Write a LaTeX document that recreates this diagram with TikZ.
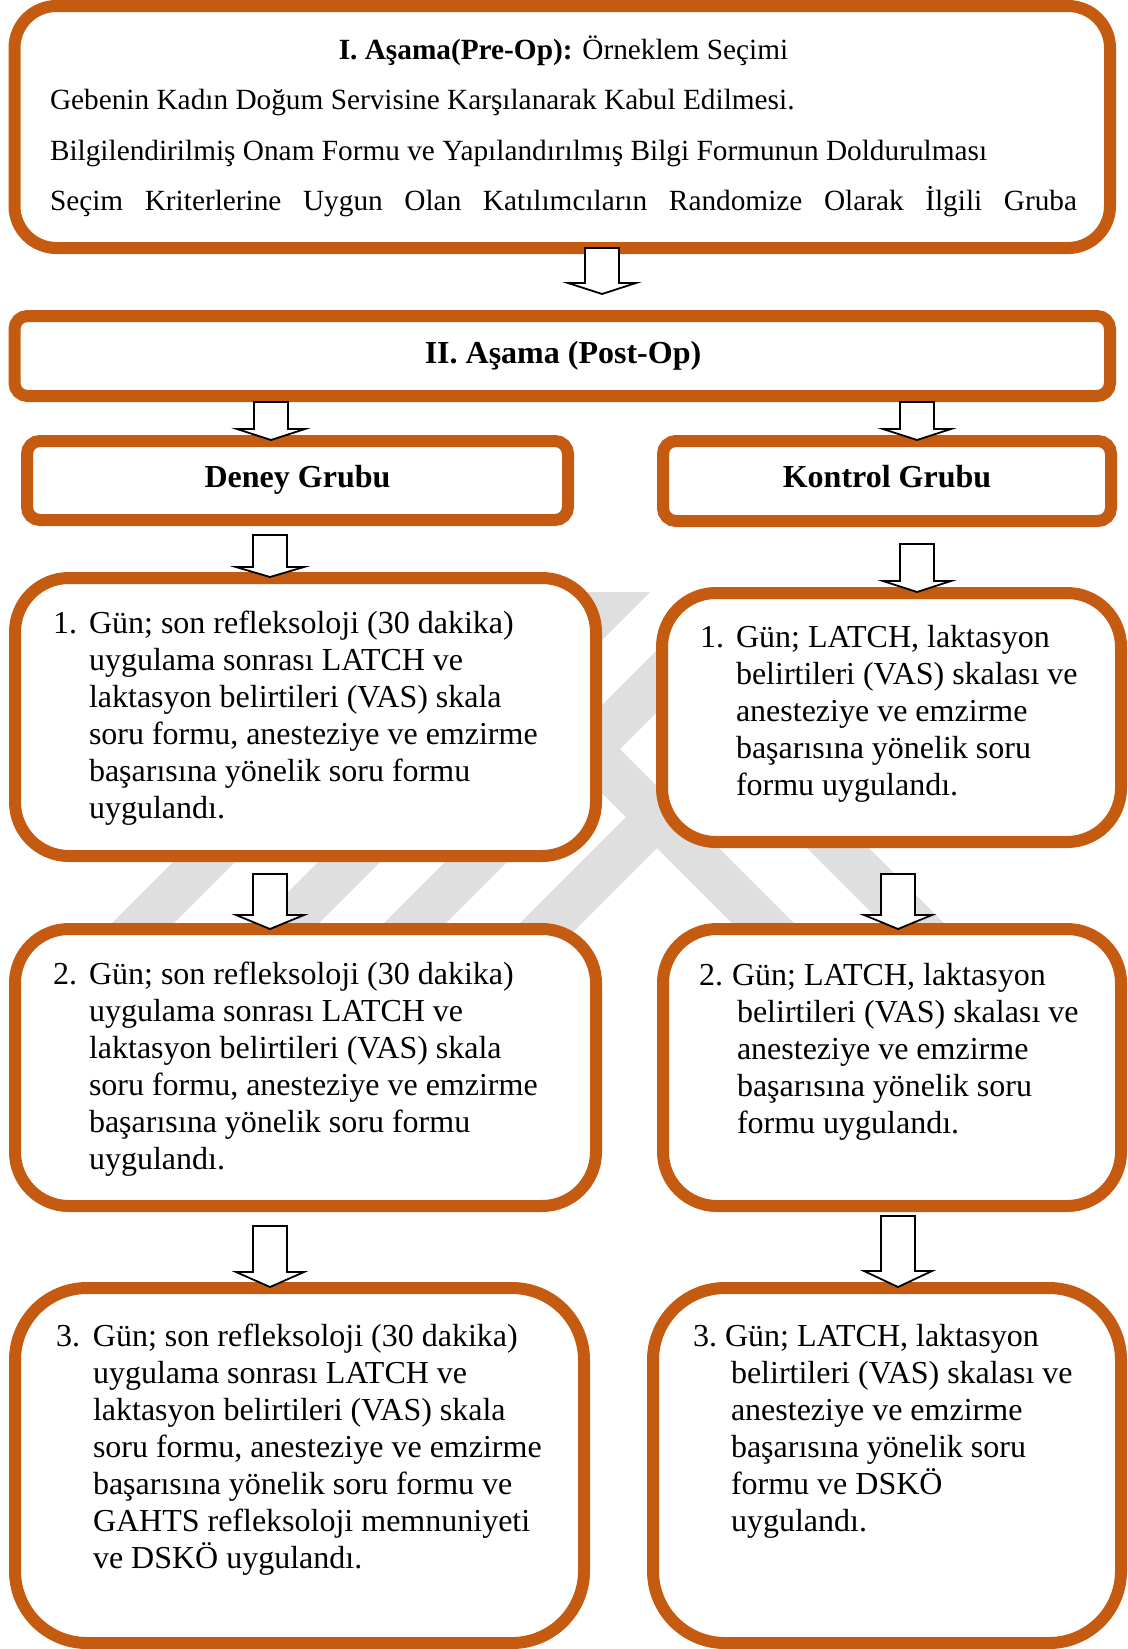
\documentclass[tikz,border=0pt]{standalone}
\usepackage{fontspec}
\setmainfont{Liberation Serif}
\usetikzlibrary{calc}
\definecolor{boxorange}{HTML}{C55A11}
\definecolor{wmgray}{gray}{0.875}
\tikzset{
  obox/.style={draw=boxorange, line width=12pt, fill=white, inner sep=0pt, outer sep=0pt},
  txt/.style={anchor=base west, inner sep=0pt, outer sep=0pt, font=\fontsize{32pt}{37pt}\selectfont},
  headtxt/.style={anchor=base, inner sep=0pt, outer sep=0pt, font=\fontsize{32pt}{37pt}\selectfont\bfseries},
  barrow/.style={draw=black, line width=1.8pt, fill=white, line join=miter},
  wm/.style={fill=wmgray, draw=none}
}
\newcommand\blockarrow[3]{%
  \draw[barrow] let \p1=(#1), \p2=(#2) in
    (\x1-17pt,\y1) -- (\x1+17pt,\y1) -- (\x1+17pt,\y2+#3pt) -- (\x1+34pt,\y2+#3pt)
    -- (\x1,\y2) -- (\x1-34pt,\y2+#3pt) -- (\x1-17pt,\y2+#3pt) -- cycle;}
% numbered paragraph: #1 number box width, #2 hanging indent, #3 number, #4 lines
\newcommand\numpar[4]{\parbox[t]{560pt}{\hangindent=#2pt\hangafter=1\noindent\makebox[#1pt][l]{#3}#4}}
\begin{document}
\begin{tikzpicture}[x=1pt,y=-1pt]
\useasboundingbox (0,0) rectangle (1127,1649);
\fill[white] (0,0) rectangle (1127,1649);
% watermark
\foreach \c in {176,321,448,584}
  \fill[wm] (\c-31+298,592) -- (\c+31+298,592) -- (\c+31-110,1000) -- (\c-31-110,1000) -- cycle;
\foreach \c in {730,880}
  \fill[wm] (\c-31-190,700) -- (\c+31-190,700) -- (\c+31+110,1000) -- (\c-31+110,1000) -- cycle;
% boxes
\node[obox, rounded corners=42pt, minimum width=1095.5pt, minimum height=242pt] (b0) at (562.25,127) {};
\node[obox, rounded corners=13pt, minimum width=1095.5pt, minimum height=80pt] (b1) at (562.25,356) {};
\node[obox, rounded corners=13pt, minimum width=541pt, minimum height=79pt] (b2) at (297.5,480.5) {};
\node[obox, rounded corners=13pt, minimum width=448pt, minimum height=80pt] (b3) at (887,481) {};
\node[obox, rounded corners=54pt, minimum width=581pt, minimum height=278pt] (b4) at (305.5,717) {};
\node[obox, rounded corners=54pt, minimum width=459pt, minimum height=249pt] (b5) at (891.5,717.5) {};
\node[obox, rounded corners=54pt, minimum width=581pt, minimum height=277pt] (b6) at (305.5,1067.5) {};
\node[obox, rounded corners=54pt, minimum width=458pt, minimum height=277pt] (b7) at (892,1067.5) {};
\node[obox, rounded corners=72pt, minimum width=569pt, minimum height=355pt] (b8) at (299.5,1465.5) {};
\node[obox, rounded corners=72pt, minimum width=468pt, minimum height=355pt] (b9) at (887,1465.5) {};
% texts
\node[anchor=base west, inner sep=0pt, outer sep=0pt, font=\fontsize{29.3pt}{50.5pt}\selectfont] (t0) at (50,59)
 {\parbox[t]{1027pt}{\makebox[\linewidth]{\textbf{I. Aşama(Pre-Op):} Örneklem Seçimi}\\
 Gebenin Kadın Doğum Servisine Karşılanarak Kabul Edilmesi.\\
 Bilgilendirilmiş Onam Formu ve Yapılandırılmış Bilgi Formunun Doldurulması\\
 \makebox[\linewidth][s]{Seçim Kriterlerine Uygun Olan Katılımcıların Randomize Olarak İlgili Gruba}}};
\node[headtxt] (h1) at (563,363) {II. Aşama (Post-Op)};
\node[headtxt] (h2) at (297.5,487) {Deney Grubu};
\node[headtxt] (h3) at (887,487) {Kontrol Grubu};
\node[txt] (t4) at (53,633) {\numpar{36}{36}{1.}{Gün; son refleksoloji (30 dakika)\\
 uygulama sonrası LATCH ve\\
 laktasyon belirtileri (VAS) skala\\
 soru formu, anesteziye ve emzirme\\
 başarısına yönelik soru formu\\
 uygulandı.}};
\node[txt] (t5) at (700,647) {\numpar{36}{36}{1.}{Gün; LATCH, laktasyon\\
 belirtileri (VAS) skalası ve\\
 anesteziye ve emzirme\\
 başarısına yönelik soru\\
 formu uygulandı.}};
\node[txt] (t6) at (53,984) {\numpar{36}{36}{2.}{Gün; son refleksoloji (30 dakika)\\
 uygulama sonrası LATCH ve\\
 laktasyon belirtileri (VAS) skala\\
 soru formu, anesteziye ve emzirme\\
 başarısına yönelik soru formu\\
 uygulandı.}};
\node[txt] (t7) at (699,985) {\numpar{33}{38}{2.}{Gün; LATCH, laktasyon\\
 belirtileri (VAS) skalası ve\\
 anesteziye ve emzirme\\
 başarısına yönelik soru\\
 formu uygulandı.}};
\node[txt] (t8) at (56,1346) {\numpar{37}{37}{3.}{Gün; son refleksoloji (30 dakika)\\
 uygulama sonrası LATCH ve\\
 laktasyon belirtileri (VAS) skala\\
 soru formu, anesteziye ve emzirme\\
 başarısına yönelik soru formu ve\\
 GAHTS refleksoloji memnuniyeti\\
 ve DSKÖ uygulandı.}};
\node[txt] (t9) at (693,1346) {\numpar{32}{38}{3.}{Gün; LATCH, laktasyon\\
 belirtileri (VAS) skalası ve\\
 anesteziye ve emzirme\\
 başarısına yönelik soru\\
 formu ve DSKÖ\\
 uygulandı.}};
% arrow end points
\coordinate (a0s) at (602,248);  \coordinate (a0e) at (602,294);
\coordinate (a1s) at (271,402);  \coordinate (a1e) at (271,440);
\coordinate (a2s) at (917,402);  \coordinate (a2e) at (917,440);
\coordinate (a3s) at (270,535);  \coordinate (a3e) at (270,577);
\coordinate (a4s) at (917,544);  \coordinate (a4e) at (917,592);
\coordinate (a5s) at (270,874);  \coordinate (a5e) at (270,929);
\coordinate (a6s) at (898,874);  \coordinate (a6e) at (898,929);
\coordinate (a7s) at (270,1226); \coordinate (a7e) at (270,1287);
\coordinate (a8s) at (898,1216); \coordinate (a8e) at (898,1287);
\blockarrow{a0s}{a0e}{11}
\blockarrow{a1s}{a1e}{11}
\blockarrow{a2s}{a2e}{11}
\blockarrow{a3s}{a3e}{10}
\blockarrow{a4s}{a4e}{11}
\blockarrow{a5s}{a5e}{14}
\blockarrow{a6s}{a6e}{14}
\blockarrow{a7s}{a7e}{15}
\blockarrow{a8s}{a8e}{16}
\end{tikzpicture}
\end{document}
